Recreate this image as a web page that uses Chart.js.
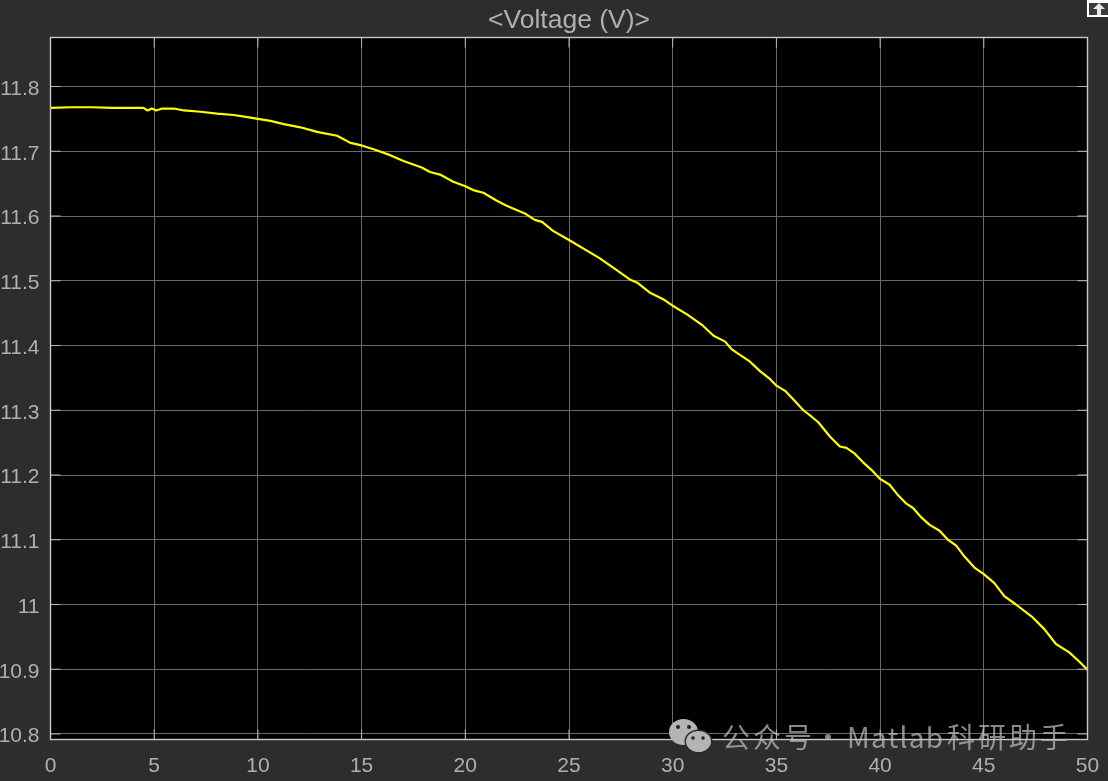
<!DOCTYPE html>
<html>
<head>
<meta charset="utf-8">
<title>Voltage</title>
<script src="https://cdn.jsdelivr.net/npm/chart.js@4/dist/chart.umd.min.js"></script>
<style>
  html, body { margin: 0; padding: 0; background: #2d2d2d; overflow: hidden; }
  canvas { display: block; }
</style>
</head>
<body>
<canvas id="voltageChart" width="1108" height="781"></canvas>
<script>
const chartTitle = '<Voltage (V)>';

const xTicks = [0, 5, 10, 15, 20, 25, 30, 35, 40, 45, 50];
const yTicks = [10.8, 10.9, 11, 11.1, 11.2, 11.3, 11.4, 11.5, 11.6, 11.7, 11.8];

const timeValues = [
  0, 1, 2, 3, 4, 4.48, 4.68, 4.89, 5.1, 5.38, 5.95, 6.43, 7.23, 8.03, 8.84, 9.64, 10,
  10.6, 11.25, 12.05, 12.85, 13.82, 14.46, 15, 15.58, 16.38, 17.02, 17.9, 18.3, 18.78,
  19.42, 20, 20.38, 20.87, 21.5, 21.99, 22.87, 23.35, 23.7, 24.23, 25, 26.47, 27.32,
  27.96, 28.29, 28.93, 29.57, 30, 30.69, 31.41, 31.97, 32.53, 32.85, 33.73, 34.21, 34.7,
  35, 35.42, 35.9, 36.3, 36.7, 37.02, 37.58, 38.06, 38.38, 38.78, 39.18, 39.58, 40,
  40.46, 40.87, 41.27, 41.59, 41.99, 42.39, 42.87, 43.27, 43.67, 44.07, 44.55, 45,
  45.51, 45.99, 46.55, 47.36, 47.92, 48.48, 49.12, 49.6, 50
];
const voltageValues = [
  11.767, 11.768, 11.768, 11.767, 11.767, 11.767, 11.763, 11.766, 11.763, 11.766, 11.766, 11.763, 11.761, 11.758, 11.756, 11.752, 11.75,
  11.747, 11.742, 11.737, 11.73, 11.724, 11.713, 11.709, 11.703, 11.694, 11.685, 11.675, 11.668, 11.664,
  11.653, 11.646, 11.64, 11.636, 11.624, 11.616, 11.604, 11.594, 11.591, 11.577, 11.563, 11.535, 11.516,
  11.5015, 11.497, 11.481, 11.471, 11.4615, 11.448, 11.432, 11.415, 11.406, 11.394, 11.375, 11.3605, 11.348,
  11.338, 11.33, 11.314, 11.3, 11.29, 11.2815, 11.2595, 11.244, 11.242, 11.233, 11.2196, 11.208, 11.194,
  11.185, 11.1686, 11.1557, 11.149, 11.1345, 11.123, 11.114, 11.1, 11.091, 11.074, 11.057, 11.047,
  11.033, 11.013, 11, 10.98, 10.962, 10.939, 10.926, 10.912, 10.899
];

const panelBackground = {
  id: 'panelBackground',
  beforeDraw(chart) {
    const { ctx, chartArea: a } = chart;
    ctx.save();
    ctx.fillStyle = '#2d2d2d';
    ctx.fillRect(0, 0, chart.width, chart.height);
    ctx.fillStyle = '#000000';
    ctx.fillRect(a.left, a.top, a.right - a.left, a.bottom - a.top);
    ctx.restore();
  }
};

// matlab style box with short inward ticks on all four sides
const scopeFrame = {
  id: 'scopeFrame',
  afterDatasetsDraw(chart) {
    const { ctx, chartArea: a, scales } = chart;
    const len = 10;
    ctx.save();
    ctx.strokeStyle = '#b8b8b8';
    ctx.lineWidth = 1;
    ctx.beginPath();
    xTicks.forEach(v => {
      const px = scales.x.getPixelForValue(v);
      ctx.moveTo(px, a.top); ctx.lineTo(px, a.top + len);
      ctx.moveTo(px, a.bottom); ctx.lineTo(px, a.bottom - len);
    });
    yTicks.forEach(v => {
      const py = scales.y.getPixelForValue(v);
      ctx.moveTo(a.left, py); ctx.lineTo(a.left + len, py);
      ctx.moveTo(a.right, py); ctx.lineTo(a.right - len, py);
    });
    ctx.stroke();
    ctx.strokeStyle = '#c8c8c8';
    ctx.lineWidth = 1.4;
    ctx.strokeRect(a.left, a.top, a.right - a.left, a.bottom - a.top);
    ctx.restore();
  }
};

const overlays = {
  id: 'overlays',
  afterDraw(chart) {
    const { ctx } = chart;
    ctx.save();

    // undock button in the corner
    ctx.fillStyle = '#ffffff';
    ctx.fillRect(1087, 0, 21, 17);
    ctx.fillStyle = '#3a3a3a';
    ctx.fillRect(1089, 3, 19, 12);
    ctx.fillStyle = '#e8e8e8';
    ctx.beginPath();
    ctx.moveTo(1099, 3); ctx.lineTo(1105, 9); ctx.lineTo(1101, 9); ctx.lineTo(1101, 15);
    ctx.lineTo(1097, 15); ctx.lineTo(1097, 9); ctx.lineTo(1093, 9);
    ctx.closePath();
    ctx.fill();

    // watermark icon
    ctx.fillStyle = '#b4b4b4';
    ctx.beginPath();
    ctx.ellipse(683.5, 732, 14.5, 13, 0, 0, Math.PI * 2);
    ctx.fill();
    ctx.fillStyle = '#2a2a2a';
    ctx.beginPath();
    ctx.ellipse(698.5, 741.5, 14, 12, 0, 0, Math.PI * 2);
    ctx.fill();
    ctx.fillStyle = '#b4b4b4';
    ctx.beginPath();
    ctx.ellipse(698.5, 741.5, 12.5, 10.5, 0, 0, Math.PI * 2);
    ctx.fill();
    ctx.fillStyle = '#222222';
    [[678, 727, 2], [689, 727, 2], [693, 738, 1.8], [703, 738, 1.8]].forEach(d => {
      ctx.beginPath();
      ctx.arc(d[0], d[1], d[2], 0, Math.PI * 2);
      ctx.fill();
    });

    // watermark text, in pieces because the spacing differs
    ctx.fillStyle = 'rgba(190,190,190,0.72)';
    ctx.font = '28px "Noto Sans CJK SC"';
    ctx.textAlign = 'left';
    ctx.textBaseline = 'alphabetic';
    ctx.letterSpacing = '3px';
    ctx.fillText('公众号', 722, 748);
    ctx.fillText('·', 814, 748);
    ctx.letterSpacing = '1.3px';
    ctx.fillText('Matlab', 847, 748);
    ctx.letterSpacing = '3px';
    ctx.fillText('科研助手', 947, 748);
    ctx.restore();
  }
};

const ctx = document.getElementById('voltageChart').getContext('2d');
const chart = new Chart(ctx, {
  type: 'line',
  data: {
    datasets: [{
      label: 'Voltage (V)',
      data: timeValues.map((t, i) => ({ x: t, y: voltageValues[i] })),
      borderColor: '#ffff00',
      borderWidth: 2.2,
      borderJoinStyle: 'round',
      pointRadius: 0,
      tension: 0
    }]
  },
  options: {
    responsive: false,
    animation: false,
    layout: { padding: { left: 0, right: 20.5, top: 0, bottom: 0 } },
    plugins: {
      legend: { display: false },
      tooltip: { enabled: false },
      title: {
        display: true,
        text: chartTitle,
        fullSize: false,
        color: '#b0b0b0',
        font: { family: '"Liberation Sans"', size: 26.5, weight: 'normal', lineHeight: 1.2 },
        padding: { top: 5, bottom: 0.7 }
      }
    },
    scales: {
      x: {
        type: 'linear',
        min: 0,
        max: 50,
        afterBuildTicks: scale => { scale.ticks = xTicks.map(v => ({ value: v })); },
        afterFit: scale => { scale.height = 41.5; scale.paddingLeft = 0; scale.paddingRight = 0; },
        border: { display: false },
        grid: { color: '#6a6a6a', lineWidth: 1, drawTicks: false },
        ticks: {
          color: '#b0b0b0',
          font: { family: '"Liberation Sans"', size: 21 },
          padding: 14,
          maxRotation: 0,
          autoSkip: false
        }
      },
      y: {
        type: 'linear',
        min: 10.7915,
        max: 11.8757,
        afterBuildTicks: scale => { scale.ticks = yTicks.map(v => ({ value: v })); },
        afterFit: scale => { scale.width = 50.5; },
        border: { display: false },
        grid: { color: '#6a6a6a', lineWidth: 1, drawTicks: false },
        ticks: {
          color: '#b0b0b0',
          font: { family: '"Liberation Sans"', size: 21 },
          padding: 11,
          labelOffset: 2.5,
          autoSkip: false,
          callback: value => String(Math.round(value * 10) / 10)
        }
      }
    }
  },
  plugins: [panelBackground, scopeFrame, overlays]
});
</script>
</body>
</html>
